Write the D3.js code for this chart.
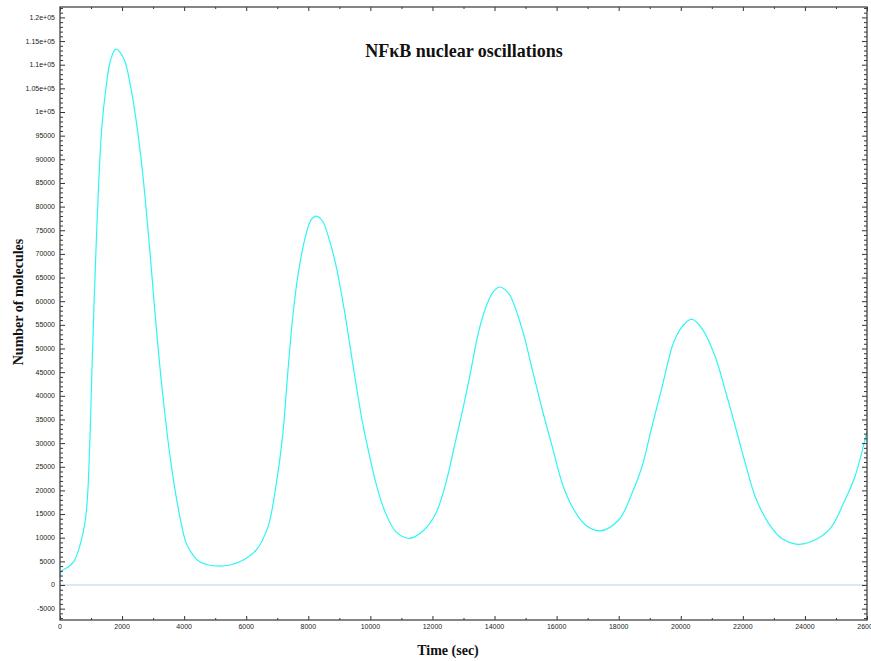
<!DOCTYPE html>
<html>
<head>
<meta charset="utf-8">
<script src="https://cdn.jsdelivr.net/npm/d3@7"></script>
<style>
  body { margin: 0; background: #fff; }
  svg { display: block; }
</style>
</head>
<body>
<svg id="here"></svg>
<script>
// time (sec) and nuclear NFkB (number of molecules)
const timeSec = [0, 40, 270, 450, 640, 800, 880, 960, 1010, 1080, 1160, 1250, 1350, 1470, 1630, 1800,
  2060, 2270, 2490, 2680, 2890, 3080, 3290, 3560, 3830, 4070, 4300, 4500, 5140, 5790, 6320, 6700,
  6970, 7180, 7340, 7500, 7660, 7880, 8090, 8270, 8470, 8680, 8900, 9160, 9430, 9750, 10000, 10180,
  10450, 10820, 11250, 11730, 12110, 12430, 12750, 13020, 13240, 13500, 13770, 13950, 14150, 14350, 14520, 14900,
  15220, 15540, 15860, 16180, 16500, 16930, 17400, 18000, 18430, 18750, 19070, 19400, 19720, 19880, 20040,
  20350, 20680, 21110, 21430, 21760, 22080, 22400, 22830, 23250, 23790, 24430, 24860, 25290, 25610, 26000];
const nfkbNuclear = [1500, 2900, 3800, 5000, 8300, 13000, 18000, 30000, 41000, 56000, 71000, 85500, 97000, 104500, 111000, 113300,
  111200, 105500, 96500, 86000, 71000, 56000, 41500, 26500, 15500, 8800, 6200, 4900, 4000, 4900, 7400, 12300,
  21500, 32000, 45000, 56700, 65200, 72900, 77200, 78000, 76800, 72900, 67300, 58100, 46900, 34200, 26500, 21500,
  15850, 11270, 9870, 11630, 15150, 21500, 30650, 38400, 45450, 53900, 59550, 61900, 63000, 62400, 60950, 53900,
  45450, 37000, 29240, 21500, 16550, 12680, 11450, 13740, 19380, 25000, 33460, 41920, 50380, 52900, 54600,
  56230, 54260, 48260, 41220, 33460, 25730, 18670, 13040, 9870, 8600, 9870, 12330, 17970, 22900, 32500];

const xTicks = d3.range(0, 26001, 2000);
const yTicks = d3.range(-5000, 120001, 5000);

const width = 871, height = 661;
const margin = {top: 7, right: 4, bottom: 41, left: 60};

const svg = d3.select("#here").attr("width", width).attr("height", height);

const x = d3.scaleLinear().domain([0, 26000]).range([margin.left, width - margin.right]);
const y = d3.scaleLinear().domain([-7400, 122200]).range([height - margin.bottom, margin.top]);

const fmtY = d => Math.abs(d) >= 100000 ? (d / 100000) + "e+05" : String(d);

svg.append("defs").append("clipPath").attr("id", "clip")
  .append("rect")
  .attr("x", margin.left).attr("y", margin.top)
  .attr("width", width - margin.right - margin.left)
  .attr("height", height - margin.bottom - margin.top);

// zero line
svg.append("line")
  .attr("x1", x(0)).attr("x2", x(26000))
  .attr("y1", y(0)).attr("y2", y(0))
  .attr("stroke", "#c4e6f2").attr("stroke-width", 1.5);

// curve
const line = d3.line()
  .x((d, i) => x(timeSec[i]))
  .y(d => y(d))
  .curve(d3.curveCatmullRom);

svg.append("path")
  .datum(nfkbNuclear)
  .attr("clip-path", "url(#clip)")
  .attr("fill", "none")
  .attr("stroke", "#30f4f4")
  .attr("stroke-width", 1.2)
  .attr("d", line);

const axisColor = "#333";
const minorY = d3.range(-7000, 122001, 1000).filter(d => d % 5000 !== 0);
const minorX = d3.range(1000, 26000, 2000);

// left axis (ticks inward)
svg.append("g")
  .attr("transform", `translate(${margin.left},0)`)
  .call(d3.axisRight(y).tickValues(minorY).tickSize(3).tickFormat(""))
  .call(g => g.select(".domain").remove());
svg.append("g")
  .attr("transform", `translate(${margin.left},0)`)
  .call(d3.axisRight(y).tickValues(yTicks).tickSize(5).tickFormat(""))
  .call(g => g.select(".domain").remove());
// labels for y
svg.append("g").selectAll("text")
  .data(yTicks).enter().append("text")
  .attr("x", margin.left - 5)
  .attr("y", d => y(d))
  .attr("dy", "0.35em")
  .attr("text-anchor", "end")
  .attr("font-family", "Liberation Sans, Arial, sans-serif")
  .attr("font-size", 7)
  .attr("fill", "#222")
  .text(fmtY);

// right axis (ticks inward)
const xr = width - margin.right;
svg.append("g")
  .attr("transform", `translate(${xr},0)`)
  .call(d3.axisLeft(y).tickValues(minorY).tickSize(3).tickFormat(""))
  .call(g => g.select(".domain").remove());
svg.append("g")
  .attr("transform", `translate(${xr},0)`)
  .call(d3.axisLeft(y).tickValues(yTicks).tickSize(5).tickFormat(""))
  .call(g => g.select(".domain").remove());

// bottom axis
const yb = height - margin.bottom;
svg.append("g")
  .attr("transform", `translate(0,${yb})`)
  .call(d3.axisTop(x).tickValues(minorX).tickSize(2).tickFormat(""))
  .call(g => g.select(".domain").remove());
svg.append("g")
  .attr("transform", `translate(0,${yb})`)
  .call(d3.axisTop(x).tickValues(xTicks).tickSize(4).tickFormat(""))
  .call(g => g.select(".domain").remove());
svg.append("g").selectAll("text")
  .data(xTicks).enter().append("text")
  .attr("x", d => x(d))
  .attr("y", yb + 9)
  .attr("text-anchor", "middle")
  .attr("font-family", "Liberation Sans, Arial, sans-serif")
  .attr("font-size", 7)
  .attr("fill", "#222")
  .text(d => d);

// top axis
svg.append("g")
  .attr("transform", `translate(0,${margin.top})`)
  .call(d3.axisBottom(x).tickValues(minorX).tickSize(2).tickFormat(""))
  .call(g => g.select(".domain").remove());
svg.append("g")
  .attr("transform", `translate(0,${margin.top})`)
  .call(d3.axisBottom(x).tickValues(xTicks).tickSize(4).tickFormat(""))
  .call(g => g.select(".domain").remove());

svg.selectAll(".tick line").attr("stroke", axisColor);

// frame
svg.append("rect")
  .attr("x", margin.left).attr("y", margin.top)
  .attr("width", width - margin.right - margin.left)
  .attr("height", height - margin.bottom - margin.top)
  .attr("fill", "none")
  .attr("stroke", "#444")
  .attr("stroke-width", 1.3);

// title and labels
svg.append("text")
  .attr("x", 464).attr("y", 57)
  .attr("text-anchor", "middle")
  .attr("font-family", "Liberation Serif, Times New Roman, serif")
  .attr("font-weight", "bold")
  .attr("font-size", 18)
  .attr("fill", "#111")
  .text("NFκB nuclear oscillations");

svg.append("text")
  .attr("transform", "translate(23,302) rotate(-90)")
  .attr("text-anchor", "middle")
  .attr("font-family", "Liberation Serif, Times New Roman, serif")
  .attr("font-weight", "bold")
  .attr("font-size", 14)
  .attr("fill", "#111")
  .text("Number of molecules");

svg.append("text")
  .attr("x", 448).attr("y", 655)
  .attr("text-anchor", "middle")
  .attr("font-family", "Liberation Serif, Times New Roman, serif")
  .attr("font-weight", "bold")
  .attr("font-size", 14)
  .attr("fill", "#111")
  .text("Time (sec)");
</script>
</body>
</html>
